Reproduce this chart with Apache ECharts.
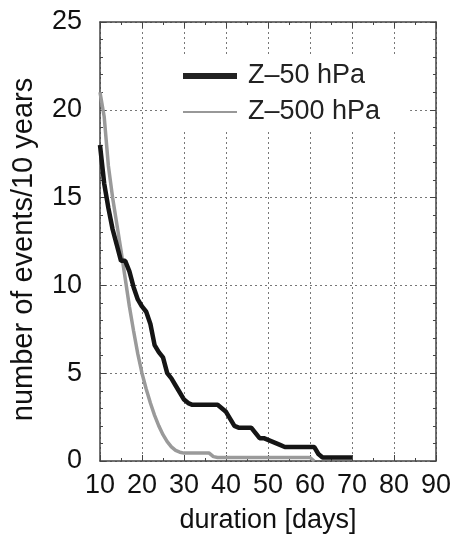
<!DOCTYPE html>
<html>
<head>
<meta charset="utf-8">
<script src="https://cdn.jsdelivr.net/npm/echarts@6/dist/echarts.min.js"></script>
<style>
  html, body { margin: 0; padding: 0; background: #fff; }
  #chart { width: 454px; height: 539px; }
</style>
</head>
<body>
<div id="chart"></div>
<script>
// Event duration in days (x) and number of events per 10 years (y)
const z50Days = [10,11,12,13,14,15,16,17,18,19,20,21,22,23,24,25,26,27,28,29,30,31,32,33,34,35,36,37,38,39,40,41,42,43,44,45,46,47,48,49,50,51,52,53,54,55,56,57,58,59,60,61,62,63,64,65,66,67,68,69,70];
const z50Values = [18.0,15.8,14.4,13.2,12.3,11.4,11.4,10.8,9.9,9.2,8.8,8.5,7.8,6.6,6.2,5.9,5.0,4.7,4.3,3.9,3.5,3.3,3.2,3.2,3.2,3.2,3.2,3.2,3.2,3.0,2.8,2.4,2.0,1.9,1.9,1.9,1.9,1.6,1.3,1.3,1.2,1.1,1.0,0.9,0.8,0.8,0.8,0.8,0.8,0.8,0.8,0.8,0.4,0.2,0.2,0.2,0.2,0.2,0.2,0.2,0.2];

const z500Days = [10,11,12,13,14,15,16,17,18,19,20,21,22,23,24,25,26,27,28,29,30,31,32,33,34,35,36,37,38,39,40,41,42,43,44,45,46,47,48,49,50,51,52,53,54,55,56,57,58,59,60,61];
const z500Values = [21.0,19.6,16.8,15.0,13.5,12.0,10.4,8.8,7.4,6.1,5.0,4.1,3.3,2.6,2.0,1.5,1.1,0.8,0.6,0.5,0.45,0.45,0.45,0.45,0.45,0.45,0.45,0.25,0.2,0.2,0.2,0.2,0.2,0.2,0.2,0.2,0.2,0.2,0.2,0.2,0.2,0.2,0.2,0.2,0.2,0.2,0.2,0.2,0.2,0.2,0.2,0.0];

const seriesNames = ['Z\u201350 hPa', 'Z\u2013500 hPa'];
const xTitle = 'duration [days]';
const yTitle = 'number of events/10 years';

const FONT = '"Liberation Sans", Arial, Helvetica, sans-serif';
const frameColor = '#444';
const gridLine = { show: true, lineStyle: { color: '#777', type: [2, 3], width: 1 } };

// legend keys: a thick bar and a thin stroke inside the same 54x6 box
const thickKey = 'path://M0,0H54V6H0Z';
const thinKey = 'path://M0,0H0.05V0.05H0Z M0,2.3H54V3.7H0Z M0,5.95H0.05V6H0Z';

const pairs = (xs, ys) => xs.map((x, i) => [x, ys[i]]);

const chart = echarts.init(document.getElementById('chart'), null, { renderer: 'canvas' });

const baseAxis = {
  axisLine: { show: true, onZero: false, lineStyle: { color: frameColor, width: 1.5 } },
  axisTick: { show: true, inside: true, length: 6, lineStyle: { color: frameColor, width: 1 } },
  minorTick: { show: true, splitNumber: 2, length: 3, lineStyle: { color: frameColor, width: 1 } }
};

chart.setOption({
  animation: false,
  backgroundColor: '#fff',
  textStyle: { fontFamily: FONT },
  grid: { left: 100, right: 17, top: 22, bottom: 76, containLabel: false },
  legend: {
    orient: 'vertical',
    left: 168,
    top: 57,
    padding: [4, 30, 4, 15],
    backgroundColor: '#fff',
    itemWidth: 54,
    itemHeight: 6,
    itemGap: 6,
    textStyle: { fontSize: 27, color: '#222', fontFamily: FONT, lineHeight: 30, padding: [0, 0, 0, 6] },
    data: [
      { name: seriesNames[0], icon: thickKey, itemStyle: { color: '#222' } },
      { name: seriesNames[1], icon: thinKey, itemStyle: { color: '#777' } }
    ]
  },
  xAxis: [
    Object.assign({}, baseAxis, {
      type: 'value', min: 10, max: 90, interval: 10,
      name: xTitle, nameLocation: 'middle', nameGap: 46,
      nameTextStyle: { fontSize: 27, color: '#111', fontFamily: FONT },
      axisLabel: { fontSize: 27, color: '#111', margin: 11, fontFamily: FONT },
      splitLine: gridLine
    }),
    Object.assign({}, baseAxis, {
      type: 'value', min: 10, max: 90, interval: 10, position: 'top',
      axisLabel: { show: false }, splitLine: { show: false }
    })
  ],
  yAxis: [
    Object.assign({}, baseAxis, {
      type: 'value', min: 0, max: 25, interval: 5,
      minorTick: { show: true, splitNumber: 5, length: 3, lineStyle: { color: frameColor, width: 1 } },
      name: yTitle, nameLocation: 'middle', nameGap: 62, nameRotate: 90,
      nameTextStyle: { fontSize: 29, color: '#111', fontFamily: FONT, padding: [0, 16, 0, 0] },
      axisLabel: { fontSize: 27, color: '#111', margin: 18, fontFamily: FONT },
      splitLine: gridLine
    }),
    Object.assign({}, baseAxis, {
      type: 'value', min: 0, max: 25, interval: 5, position: 'right',
      minorTick: { show: true, splitNumber: 5, length: 3, lineStyle: { color: frameColor, width: 1 } },
      axisLabel: { show: false }, splitLine: { show: false }
    })
  ],
  series: [
    {
      name: seriesNames[1], type: 'line', xAxisIndex: 0, yAxisIndex: 0,
      data: pairs(z500Days, z500Values),
      showSymbol: false, symbol: 'none',
      lineStyle: { color: '#9a9a9a', width: 3.5 },
      itemStyle: { color: '#9a9a9a' },
      z: 3
    },
    {
      name: seriesNames[0], type: 'line', xAxisIndex: 0, yAxisIndex: 0,
      data: pairs(z50Days, z50Values),
      showSymbol: false, symbol: 'none',
      lineStyle: { color: '#151515', width: 4.5 },
      itemStyle: { color: '#151515' },
      z: 4
    }
  ]
});
</script>
</body>
</html>
